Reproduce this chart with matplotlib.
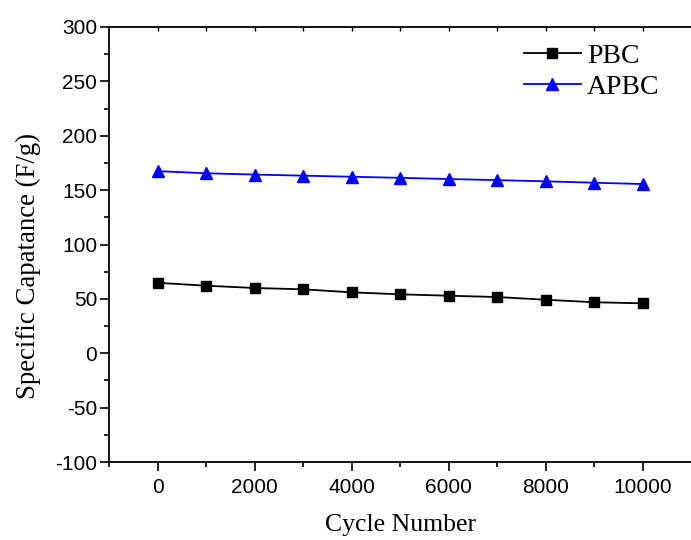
import numpy as np
import matplotlib
matplotlib.use("Agg")
import matplotlib.pyplot as plt

plt.rcParams["axes.unicode_minus"] = False

# data
cycles = [0, 1000, 2000, 3000, 4000, 5000, 6000, 7000, 8000, 9000, 10000]
pbc = [64.8, 62.1, 60.0, 58.8, 56.0, 54.2, 52.9, 51.7, 49.2, 46.9, 45.9]
apbc = [167.5, 165.5, 164.3, 163.3, 162.3, 161.3, 160.2, 159.2, 158.1, 156.8, 155.6]
xticks = [0, 2000, 4000, 6000, 8000, 10000]
yticks = [-100, -50, 0, 50, 100, 150, 200, 250, 300]

serif = ["Liberation Serif", "DejaVu Serif"]
sans = ["Liberation Sans", "DejaVu Sans"]

fig = plt.figure(figsize=(6.91, 5.40), dpi=100)
ax = fig.add_axes([109 / 691, 78 / 540, 582.2 / 691, 435 / 540])

ax.plot(cycles, pbc, color="black", lw=1.3, marker="s", ms=7, label="PBC")
ax.plot(cycles, apbc, color="blue", lw=1.3, marker="^", ms=8.5, label="APBC")

ax.set_xlim(-1000, 11000)
ax.set_ylim(-100, 300)
ax.set_xticks(xticks)
ax.set_yticks(yticks)
ax.set_xticks(np.arange(-1000, 11000, 1000), minor=True)
ax.set_yticks(np.arange(-75, 300, 50), minor=True)

ax.spines["right"].set_visible(False)
for s in ["left", "bottom", "top"]:
    ax.spines[s].set_linewidth(1.3)

ax.tick_params(which="major", direction="out", length=6.5, width=1.2,
               labelsize=15, top=False, right=False)
ax.tick_params(which="minor", direction="out", length=3.8, width=1.2,
               top=False, right=False)
for lab in ax.get_xticklabels() + ax.get_yticklabels():
    lab.set_family(sans)
ax.tick_params(axis="y", pad=2)
ax.tick_params(axis="x", pad=5)

# small inward ticks on the top spine
top = ax.secondary_xaxis("top")
top.set_xticks(np.arange(0, 11000, 1000))
top.tick_params(direction="in", length=3, width=1.0, labeltop=False)
top.spines["top"].set_visible(False)

ax.set_xlabel("Cycle Number", family=serif, fontsize=18.5, labelpad=12)
ax.set_ylabel("Specific Capatance (F/g)", family=serif, fontsize=19.3, labelpad=10)
ax.yaxis.label.set_y(0.45)

leg = ax.legend(loc="upper right", bbox_to_anchor=(0.988, 1.02), frameon=False,
                prop={"family": serif, "size": 20}, handlelength=2.05,
                handletextpad=0.22, labelspacing=0.2)

fig.savefig("out.png", dpi=100)
